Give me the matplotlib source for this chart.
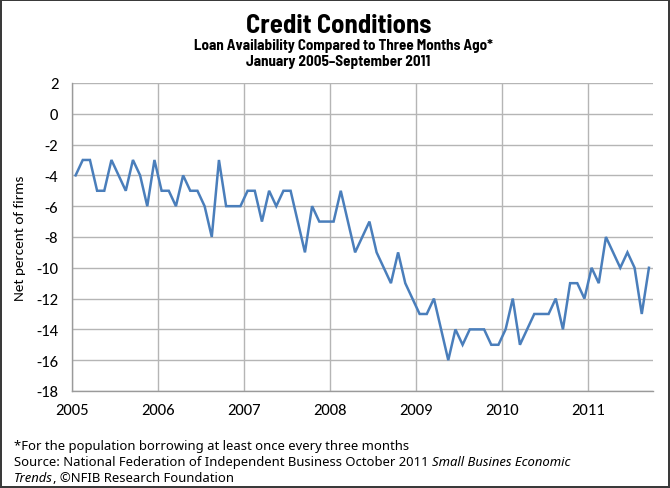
import numpy as np
import matplotlib
matplotlib.use("Agg")
import matplotlib.pyplot as plt
from matplotlib import font_manager

#----------------------------------------------------------------------------------------#
# Inputs

years = [2005, 2006, 2007, 2008, 2009, 2010, 2011]

# Net percent of firms, monthly Jan 2005 - Sep 2011
net_2005 = [-4, -3, -3, -5, -5, -3, -4, -5, -3, -4, -6, -3]
net_2006 = [-5, -5, -6, -4, -5, -5, -6, -8, -3, -6, -6, -6]
net_2007 = [-5, -5, -7, -5, -6, -5, -5, -7, -9, -6, -7, -7]
net_2008 = [-7, -5, -7, -9, -8, -7, -9, -10, -11, -9, -11, -12]
net_2009 = [-13, -13, -12, -14, -16, -14, -15, -14, -14, -14, -15, -15]
net_2010 = [-14, -12, -15, -14, -13, -13, -13, -12, -14, -11, -11, -12]
net_2011 = [-10, -11, -8, -9, -10, -9, -10, -13, -10]

yticks = list(range(2, -19, -2))

#----------------------------------------------------------------------------------------#
# Fonts: take the first installed family that has the faces we need

faces = font_manager.fontManager.ttflist

def pick(cands, bold=False, italic=False):
    for c in cands:
        fs = [f for f in faces if f.name == c]
        if not fs:
            continue
        if bold and not any(f.style == 'normal' and int(f.weight) >= 600 for f in fs):
            continue
        if italic and not any(f.style == 'italic' for f in fs):
            continue
        return c
    return 'DejaVu Sans'

TITLE_FONT = pick(['Barlow Semi Condensed', 'Roboto Condensed', 'Archivo Narrow', 'PT Sans'], bold=True)
AXIS_FONT = pick(['Carlito', 'Lato', 'Open Sans'])
NOTE_FONT = pick(['Noto Sans', 'Open Sans', 'Lato'], italic=True)
plt.rcParams['font.family'] = [AXIS_FONT, 'DejaVu Sans']

def fit(t, target_px):
    # rescale a text so that it spans target_px on the canvas
    fig.canvas.draw()
    w = t.get_window_extent().width
    t.set_fontsize(t.get_fontsize() * target_px / w)
    return t.get_fontsize()

#----------------------------------------------------------------------------------------#
# Build series (points sit mid-month)

values = net_2005 + net_2006 + net_2007 + net_2008 + net_2009 + net_2010 + net_2011
months = np.arange(len(values))
x = years[0] + (months + 0.5) / 12.0

#----------------------------------------------------------------------------------------#
# Plot

fig = plt.figure(figsize=(6.7, 4.89), dpi=100)
fig.patch.set_edgecolor('#3a3a3a')
fig.patch.set_linewidth(1.5)

ax = fig.add_axes([0.1075, 0.1984, 0.8664, 0.6299])

ax.plot(x, values, color='#4a7ebb', linewidth=1.8, solid_joinstyle='miter', zorder=3)

ax.set_xlim(2005, 2011.75)
ax.set_ylim(-18, 2)
ax.set_xticks(years)
ax.set_xticklabels([str(y) for y in years], fontsize=12)
ax.set_yticks(yticks)
ax.set_yticklabels([str(t) for t in yticks], fontsize=12)
ax.tick_params(axis='both', length=0)
ax.tick_params(axis='y', pad=10)
ax.tick_params(axis='x', pad=9)

ax.grid(True, color='#b5b5b5', linewidth=1.0)
ax.set_axisbelow(True)
for side in ['top', 'right']:
    ax.spines[side].set_visible(False)
for side in ['left', 'bottom']:
    ax.spines[side].set_color('#9a9a9a')
    ax.spines[side].set_linewidth(1.0)

ax.set_ylabel('Net percent of firms', fontsize=11, labelpad=7)

# heading
t = fig.text(0.505, 0.946, 'Credit Conditions', ha='center', va='center',
             fontsize=17, fontweight='bold', family=TITLE_FONT)
fit(t, 186)
t = fig.text(0.513, 0.906, 'Loan Availability Compared to Three Months Ago*', ha='center',
             va='center', fontsize=10, fontweight='bold', family=TITLE_FONT)
sub_size = fit(t, 300)
fig.text(0.505, 0.874, 'January 2005\u2013September 2011', ha='center',
         va='center', fontsize=sub_size, fontweight='bold', family=TITLE_FONT)

# footnote, with the report title set in italics
t0 = fig.text(0.021, 0.080, '*For the population borrowing at least once every three months',
              fontsize=9, va='baseline', family=NOTE_FONT)
note_size = fit(t0, 392)
t1 = fig.text(0.021, 0.047, 'Source: National Federation of Independent Business October 2011 ',
              fontsize=note_size, va='baseline', family=NOTE_FONT)
fig.canvas.draw()
x1 = fig.transFigure.inverted().transform((t1.get_window_extent().x1, 0))[0]
fig.text(x1, 0.047, 'Small Busines Economic', fontsize=note_size, style='italic',
         va='baseline', family=NOTE_FONT)
t2 = fig.text(0.021, 0.014, 'Trends', fontsize=note_size, style='italic', va='baseline',
              family=NOTE_FONT)
fig.canvas.draw()
x2 = fig.transFigure.inverted().transform((t2.get_window_extent().x1, 0))[0]
fig.text(x2, 0.014, ', \u00a9NFIB Research Foundation', fontsize=note_size, va='baseline',
         family=NOTE_FONT)

plt.savefig('out.png', dpi=100)
